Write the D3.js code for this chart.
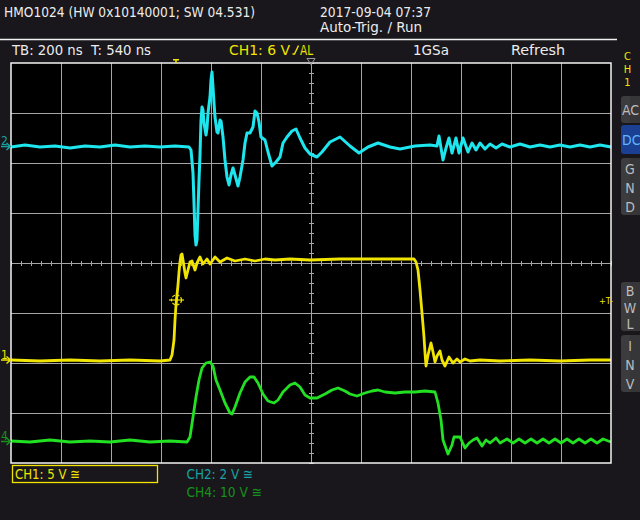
<!DOCTYPE html>
<html><head><meta charset="utf-8">
<script src="https://cdn.jsdelivr.net/npm/d3@7"></script>
<style>
html,body{margin:0;padding:0;background:#19171b;}
svg{display:block;}
text{font-family:"DejaVu Sans Condensed","Roboto","DejaVu Sans",sans-serif;white-space:pre;}
</style></head>
<body>
<svg id="c" width="640" height="520"></svg>
<script>
// ---- settings ----
const TB_ns = 200;         // time base per division
const T_ns = 540;          // trigger offset (centre of screen)
const divsX = 12, divsY = 8;

// ---- CH2 (cyan), 2 V/div ----
const ch2Time = [-660,-604,-544,-484,-424,-364,-304,-244,-184,-124,-64,-4,52,60,68,72,76,80,84,88,92,96,100,104,108,112,120,124,128,136,140,144,148,152,156,164,168,176,180,188,196,204,212,220,228,236,248,256,268,276,284,296,308,316,324,332,340,356,368,384,400,416,428,444,464,480,496,516,536,564,584,616,656,696,732,768,808,856,896,956,1016,1044,1052,1060,1068,1080,1092,1104,1120,1132,1148,1168,1184,1200,1216,1236,1256,1280,1304,1336,1376,1416,1456,1496,1536,1576,1616,1656,1696,1740];
const ch2Volts = [-0.02,0.06,-0.02,0.02,-0.06,0.02,-0.02,0.06,-0.02,0.02,-0.02,0.02,-0.02,-0.14,-1.06,-2.26,-3.54,-3.94,-3.74,-2.54,-1.34,-0.34,1.06,1.58,1.46,0.94,0.46,0.74,1.34,1.98,2.66,2.98,2.38,1.74,1.18,0.58,0.54,1.06,1.02,0.38,-0.54,-1.22,-1.54,-1.14,-0.86,-1.14,-1.58,-1.22,-0.54,0.14,0.54,0.54,0.78,1.42,1.34,0.98,0.38,0.26,-0.22,-0.78,-0.62,-0.42,0.14,0.38,0.62,0.70,0.34,-0.06,-0.30,-0.42,-0.22,0.18,0.38,0.02,-0.26,-0.02,0.14,-0.02,-0.10,0.02,0.06,0.02,0.42,-0.06,-0.54,-0.06,0.34,-0.26,0.34,-0.26,0.34,-0.22,0.14,-0.14,0.14,-0.10,0.10,-0.06,0.10,-0.02,0.10,-0.02,0.06,-0.02,0.06,-0.02,0.06,-0.02,0.06,-0.02];

// ---- CH1 (yellow), 5 V/div ----
const ch1Time = [-660,-544,-424,-304,-184,-64,-24,-16,-8,-4,0,4,8,12,16,20,24,28,36,40,48,56,64,76,84,96,108,124,136,156,176,204,236,276,316,356,396,456,536,656,816,952,960,968,976,984,992,996,1000,1008,1020,1028,1036,1044,1056,1064,1076,1092,1108,1124,1136,1156,1176,1216,1296,1416,1536,1656,1740];
const ch1Volts = [0,-0.1,0,-0.1,0,-0.1,0,0.5,2.0,4.0,5.5,6.5,7.5,8.8,9.8,10.5,10.6,10.0,8.7,8.2,9.0,9.8,9.9,9.0,9.7,10.3,9.6,10.1,9.6,10.3,9.8,10.2,9.9,10.1,9.9,10.1,10.0,10.1,10.0,10.1,10.1,10.1,9.8,9.0,7.0,4.7,2.3,0.7,-0.6,0.5,1.7,0.8,-0.2,0.4,0.9,0,-0.6,0.3,-0.3,0.1,-0.2,0.1,-0.1,0,-0.1,0,-0.1,0,0];

// ---- CH4 (green), 10 V/div ----
const ch4Time = [-660,-584,-504,-424,-344,-264,-184,-104,-24,44,56,68,80,92,104,120,136,148,160,176,196,216,224,236,256,276,296,312,328,348,368,392,408,428,456,476,496,516,536,564,596,624,648,676,696,724,756,784,808,836,876,916,956,996,1036,1048,1060,1068,1088,1104,1112,1136,1156,1172,1188,1204,1224,1240,1256,1280,1296,1324,1348,1372,1396,1420,1444,1468,1492,1516,1540,1564,1588,1612,1636,1660,1684,1708,1740];
const ch4Volts = [0.1,-0.1,0.3,-0.1,0.1,-0.1,0.3,-0.1,0.1,-0.1,0.9,4.9,8.9,12.3,14.7,15.7,15.9,15.1,12.3,10.3,7.7,5.7,5.5,6.9,9.7,11.9,12.9,12.9,11.7,9.5,8.1,7.7,8.3,9.9,11.3,11.7,10.9,9.3,8.7,8.7,9.5,10.3,10.7,10.1,9.5,9.1,9.7,10.1,10.3,9.9,9.7,9.9,9.9,10.1,9.9,7.7,4.3,0.3,-2.5,-0.7,0.9,0.9,-1.3,-0.3,0.3,0.7,-0.9,0.3,-0.3,0.7,-0.3,0.5,-0.3,0.5,-0.3,0.5,-0.3,0.5,-0.3,0.5,-0.3,0.5,-0.3,0.5,-0.3,0.5,-0.3,0.5,-0.1];

// channel settings: volts/div and ground offset in divisions
const channels = [
  {name:"CH2", time:ch2Time, volts:ch2Volts, vdiv:2,  offset:2.33,  color:"#1ee6ee", label:"#17a2a6", mark:"2", w:3},
  {name:"CH1", time:ch1Time, volts:ch1Volts, vdiv:5,  offset:-1.94, color:"#f0e400", label:"#f0e400", mark:"1", w:2.8},
  {name:"CH4", time:ch4Time, volts:ch4Volts, vdiv:10, offset:-3.57, color:"#22e022", label:"#16921a", mark:"4", w:2.8}
];
const trigLevelV = 6;

// ---- scales ----
const L=11, R=611, Tp=63, B=463;
const xDiv = d3.scaleLinear().domain([-divsX/2, divsX/2]).range([L, R]);
const yDiv = d3.scaleLinear().domain([-divsY/2, divsY/2]).range([B, Tp]);
const xT = d3.scaleLinear().domain([T_ns - divsX/2*TB_ns, T_ns + divsX/2*TB_ns]).range([L, R]);

const svg = d3.select("#c");
svg.append("rect").attr("width",640).attr("height",520).attr("fill","#19171b");

// header
const hdr = svg.append("g").attr("fill","#ececec").style("font-size","14px");
function txt(g, s, x, y, w, fill, size){
  const t = g.append("text").attr("x",x).attr("y",y).text(s);
  if (w) t.attr("textLength",w).attr("lengthAdjust","spacingAndGlyphs");
  if (fill) t.attr("fill",fill);
  if (size) t.style("font-size",size+"px");
  return t;
}
txt(hdr,"HMO1024 (HW 0x10140001; SW 04.531)",4,17,251);
txt(hdr,"2017-09-04 07:37",320,17,111);
txt(hdr,"Auto-Trig. / Run",320,31.5,102);
svg.append("line").attr("x1",0).attr("x2",617).attr("y1",39.5).attr("y2",39.5).attr("stroke","#f0f0f0").attr("stroke-width",1.5);
txt(hdr,"TB: 200 ns  T: 540 ns",12,54.5,139);
txt(hdr,"CH1: 6 V",229,54.5,61,"#f0e400");
svg.append("path").attr("d","M292.5,54 L294.5,54 L298.5,45.5").attr("fill","none").attr("stroke","#f0e400").attr("stroke-width",1.4);
txt(hdr,"AL",300,54.5,13,"#f0e400");
txt(hdr,"1GSa",413,54.5,36);
txt(hdr,"Refresh",511,54.5,54);

// right panel
const rp = svg.append("g").style("font-size","11px").attr("fill","#f0e400").attr("text-anchor","middle");
["C","H","1"].forEach((c,i)=>rp.append("text").attr("x",627.5).attr("y",60+i*13).text(c));
const buttons = [
  {lab:["AC"], y0:96, y1:123, on:false},
  {lab:["DC"], y0:125, y1:154, on:true},
  {lab:["G","N","D"], y0:158, y1:215, on:false},
  {lab:["B","W","L"], y0:282, y1:331, on:false},
  {lab:["I","N","V"], y0:335, y1:392, on:false}
];
buttons.forEach(b=>{
  svg.append("rect").attr("x",621).attr("y",b.y0).attr("width",30).attr("height",b.y1-b.y0).attr("rx",3)
    .attr("fill", b.on ? "#1b3f93" : "#3c3b3e");
  if(!b.on) svg.append("rect").attr("x",630).attr("y",b.y0).attr("width",12).attr("height",b.y1-b.y0).attr("fill","#363538");
  const n = b.lab.length;
  b.lab.forEach((s,i)=>{
    const cy = n===1 ? (b.y0+b.y1)/2 : b.y0 + (b.y1-b.y0)*(i+0.5)/n + 1;
    svg.append("text").attr("x", n===1?622:630).attr("y",cy+5).attr("text-anchor", n===1?"start":"middle")
      .style("font-size","14px").attr("fill", b.on ? "#62b4ff" : "#bcbcbc").text(s);
  });
});

// plot area
svg.append("rect").attr("x",L).attr("y",Tp).attr("width",R-L).attr("height",B-Tp).attr("fill","#000");
const grid = svg.append("g").attr("stroke","#a6a6a6").attr("stroke-width",1);
d3.range(-divsX/2+1, divsX/2).forEach(d=>grid.append("line").attr("x1",xDiv(d)+0.5).attr("x2",xDiv(d)+0.5).attr("y1",Tp).attr("y2",B));
d3.range(-divsY/2+1, divsY/2).forEach(d=>grid.append("line").attr("y1",yDiv(d)+0.5).attr("y2",yDiv(d)+0.5).attr("x1",L).attr("x2",R));
d3.range(-divsX/2, divsX/2+0.01, 0.2).forEach(d=>grid.append("line").attr("x1",xDiv(d)+0.5).attr("x2",xDiv(d)+0.5).attr("y1",yDiv(0)-2).attr("y2",yDiv(0)+3));
d3.range(-divsY/2, divsY/2+0.01, 0.2).forEach(d=>grid.append("line").attr("y1",yDiv(d)+0.5).attr("y2",yDiv(d)+0.5).attr("x1",xDiv(0)-2).attr("x2",xDiv(0)+3));

// traces
channels.forEach(ch=>{
  const pts = ch.time.map((t,i)=>[xT(t), yDiv(ch.volts[i]/ch.vdiv + ch.offset)]);
  svg.append("path").attr("d", d3.line()(pts)).attr("fill","none").attr("stroke",ch.color)
    .attr("stroke-width",ch.w).attr("stroke-linejoin","round");
});

// border
svg.append("rect").attr("x",L).attr("y",Tp).attr("width",R-L).attr("height",B-Tp).attr("fill","none").attr("stroke","#f4f4f4").attr("stroke-width",1.5);

// markers: top trigger position + centre triangle
const tx = xT(0);
svg.append("path").attr("d",`M${tx-3},59 L${tx+3},59 L${tx+3},60.5 L${tx+0.8},60.5 L${tx+0.8},63 L${tx-0.8},63 L${tx-0.8},60.5 L${tx-3},60.5 Z`).attr("fill","#f0e400");
svg.append("path").attr("d",`M${xDiv(0)-4},58.5 L${xDiv(0)+4},58.5 L${xDiv(0)},64.5 Z`).attr("fill","none").attr("stroke","#9a9a9a").attr("stroke-width",1);

// trigger crosshair
const ch1 = channels[1];
const ty = yDiv(trigLevelV/ch1.vdiv + ch1.offset);
const cross = svg.append("g").attr("stroke","#f0e400").attr("stroke-width",1.2).attr("fill","none");
cross.append("circle").attr("cx",tx+0.5).attr("cy",ty).attr("r",5).attr("stroke-dasharray","3,1.6");
cross.append("line").attr("x1",tx-7).attr("x2",tx+8).attr("y1",ty).attr("y2",ty);
cross.append("line").attr("x1",tx+0.5).attr("x2",tx+0.5).attr("y1",ty-7).attr("y2",ty+7);
// trigger level marker on right
txt(svg,"+T-",599,303.5,14,"#f0e400",9);

// left ground markers
channels.forEach(ch=>{
  const gy = yDiv(ch.offset);
  svg.append("text").attr("x",1).attr("y",gy-1.5).style("font-size","12px").attr("fill",ch.label).text(ch.mark);
  svg.append("path").attr("d",`M1,${gy} L10,${gy} M6.5,${gy-3.5} L10.5,${gy} L6.5,${gy+3.5}`).attr("fill","none").attr("stroke",ch.label).attr("stroke-width",1.5);
});

// bottom channel info
svg.append("rect").attr("x",12.5).attr("y",465.5).attr("width",145).attr("height",17).attr("fill","none").attr("stroke","#f0e400").attr("stroke-width",1.3);
txt(svg,"CH1: 5 V ≅",15,479,65,"#f0e400",14);
txt(svg,"CH2: 2 V ≅",186.5,479,66.5,"#17a2a6",14);
txt(svg,"CH4: 10 V ≅",186.5,496.5,75.5,"#16921a",14);
</script>
</body></html>
